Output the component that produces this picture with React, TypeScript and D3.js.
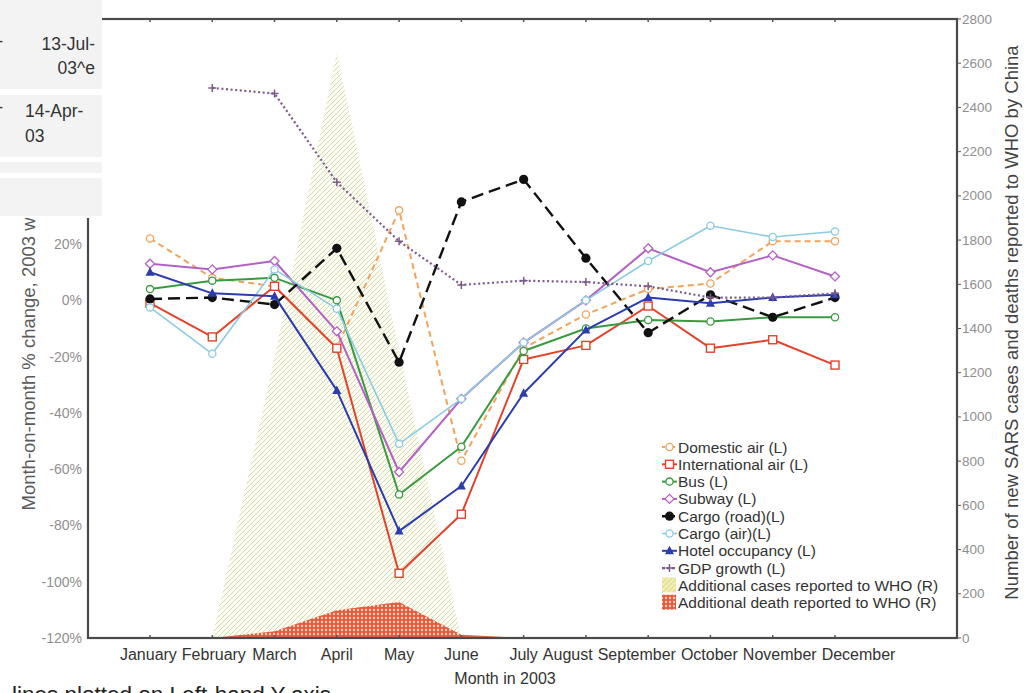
import React, { useMemo } from 'react';
import * as d3 from 'd3';

const months = ['January', 'February', 'March', 'April', 'May', 'June', 'July', 'August', 'September', 'October', 'November', 'December'];

// Left axis series (% change)
const domesticAir = [22, 8, 5, -17, 32, -57, -17, -5, 4, 6, 21, 21];
const internationalAir = [-1, -13, 5, -17, -97, -76, -21, -16, -2, -17, -14, -23];
const bus = [4, 7, 8, 0, -69, -52, -18, -10, -7, -7.5, -6, -6];
const subway = [13, 11, 14, -11, -61, -35, -15, 0, 18.5, 10, 16, 8.5];
const cargoRoad = [0.5, 1, -1.5, 18.5, -22, 35, 43, 15, -11.5, 2, -6, 1];
const cargoAir = [-2.5, -19, 11, -3, -51, -35, -15, 0, 14, 26.5, 22.5, 24.5];
const hotelOccupancy = [10, 2.5, 1.5, -32, -82, -66, -33, -10.5, 1, -1, 1, 2];
const gdpGrowth: (number | null)[] = [null, 75.5, 73.5, 42, 21, 5.5, 7, 6.5, 5, 1, 1, 2.5];

// Right axis series (counts)
const newCases = [0, 0, 1270, 2650, 1300, 0, 0, 0, 0, 0, 0, 0];
const newDeaths = [0, 0, 30, 125, 163, 15, 0, 0, 0, 0, 0, 0];

// visible left tick labels (higher ones are hidden behind the page overlay)
const leftTicks = [-120, -100, -80, -60, -40, -20, 0, 20];
const rightTicks = [0, 200, 400, 600, 800, 1000, 1200, 1400, 1600, 1800, 2000, 2200, 2400, 2600, 2800];

const W = 1029, H = 693;
const M = { left: 88, right: 957, top: 19, bottom: 638 };
const FONT = '"Liberation Sans", Arial, sans-serif';

type Marker = 'circle' | 'square' | 'diamond' | 'dot' | 'triangle' | 'plus';
interface Series { name: string; values: (number | null)[]; color: string; width: number; dash?: string; marker: Marker; filled: boolean; }

const series: Series[] = [
  { name: 'Domestic air (L)', values: domesticAir, color: '#f2a35c', width: 2, dash: '6,4', marker: 'circle', filled: false },
  { name: 'International air (L)', values: internationalAir, color: '#e2432c', width: 2, marker: 'square', filled: false },
  { name: 'Bus (L)', values: bus, color: '#3a9a40', width: 2, marker: 'circle', filled: false },
  { name: 'Subway (L)', values: subway, color: '#b461c6', width: 2, marker: 'diamond', filled: false },
  { name: 'Cargo (road)(L)', values: cargoRoad, color: '#111111', width: 2.4, dash: '12,6', marker: 'dot', filled: true },
  { name: 'Cargo (air)(L)', values: cargoAir, color: '#8ccbe2', width: 1.6, marker: 'circle', filled: false },
  { name: 'Hotel occupancy (L)', values: hotelOccupancy, color: '#2b3cae', width: 2, marker: 'triangle', filled: true },
  { name: 'GDP growth (L)', values: gdpGrowth, color: '#7d5a8e', width: 2.2, dash: '2,2.6', marker: 'plus', filled: false },
];

function markerEl(m: Marker, x: number, y: number, color: string, key: string | number) {
  switch (m) {
    case 'circle':
      return <circle key={key} cx={x} cy={y} r={3.6} fill="#fff" stroke={color} strokeWidth={1.3} />;
    case 'square':
      return <rect key={key} x={x - 4} y={y - 4} width={8} height={8} fill="#fff" stroke={color} strokeWidth={1.4} />;
    case 'diamond':
      return <path key={key} d={`M${x},${y - 4.5}L${x + 4.5},${y}L${x},${y + 4.5}L${x - 4.5},${y}Z`} fill="#fff" stroke={color} strokeWidth={1.3} />;
    case 'dot':
      return <circle key={key} cx={x} cy={y} r={4.6} fill={color} />;
    case 'triangle':
      return <path key={key} d={`M${x},${y - 5}L${x + 4.5},${y + 3.5}L${x - 4.5},${y + 3.5}Z`} fill={color} />;
    case 'plus':
      return <path key={key} d={`M${x - 4},${y}H${x + 4}M${x},${y - 4}V${y + 4}`} stroke={color} strokeWidth={1.5} fill="none" />;
  }
}

function layoutLabels(centers: number[], widths: number[], gap: number) {
  const c = centers.slice();
  for (let it = 0; it < 500; it++) {
    let moved = false;
    for (let i = 0; i < c.length - 1; i++) {
      const ov = c[i] + widths[i] / 2 + gap - (c[i + 1] - widths[i + 1] / 2);
      if (ov > 0.01) { c[i] -= ov / 2; c[i + 1] += ov / 2; moved = true; }
    }
    if (!moved) break;
  }
  return c;
}

export default function App() {
  const x = d3.scalePoint<string>().domain(months).range([150, 835]);
  const yL = d3.scaleLinear().domain([-120, 100]).range([M.bottom, M.top]);
  const yR = d3.scaleLinear().domain([0, 2800]).range([M.bottom, M.top]);

  const labelPos = useMemo(() => {
    const ctx = document.createElement('canvas').getContext('2d');
    let widths = months.map((m) => m.length * 8);
    if (ctx) {
      ctx.font = `16px "Liberation Sans", Arial, sans-serif`;
      widths = months.map((m) => ctx.measureText(m).width);
    }
    return layoutLabels(months.map((m) => x(m) as number), widths, 5);
  }, []);

  const area = (vals: number[]) =>
    d3.area<number>().x((_, i) => x(months[i]) as number).y0(M.bottom).y1((d) => yR(d))(vals) || '';

  const lineGen = d3.line<number | null>()
    .defined((d) => d !== null)
    .x((_, i) => x(months[i]) as number)
    .y((d) => yL(d as number));

  const legendX = 662;
  const legendY0 = 447;
  const legendStep = 17.3;

  return (
    <svg width={W} height={H} style={{ position: 'absolute', left: 0, top: 0, background: '#fff' }} fontFamily={FONT}>
      <defs>
        <pattern id="hatch" patternUnits="userSpaceOnUse" width={5} height={5}>
          <rect width={5} height={5} fill="#fdfdf4" />
          <path d="M-1,1 l2,-2 M0,5 l5,-5 M4,6 l2,-2" stroke="#d2dbb0" strokeWidth={1} />
        </pattern>
        <pattern id="hatchLegend" patternUnits="userSpaceOnUse" width={5} height={5}>
          <rect width={5} height={5} fill="#f3efae" />
          <path d="M-1,1 l2,-2 M0,5 l5,-5 M4,6 l2,-2" stroke="#dcd998" strokeWidth={1.1} />
        </pattern>
        <pattern id="dots" patternUnits="userSpaceOnUse" width={4} height={4}>
          <rect width={4} height={4} fill="#e55c3c" />
          <circle cx={2} cy={2} r={1.15} fill="#fbd6c8" />
        </pattern>
        <clipPath id="plotClip">
          <rect x={M.left} y={M.top} width={M.right - M.left} height={M.bottom - M.top} />
        </clipPath>
      </defs>

      {/* areas (right axis) */}
      <g clipPath="url(#plotClip)">
        <path d={area(newCases)} fill="url(#hatch)" />
        <path d={area(newDeaths)} fill="url(#dots)" />
      </g>

      {/* lines */}
      <g clipPath="url(#plotClip)">
        {series.map((s) => (
          <g key={s.name}>
            <path d={lineGen(s.values) || ''} fill="none" stroke={s.color} strokeWidth={s.width}
              strokeDasharray={s.dash} strokeLinejoin="round" />
            {s.values.map((v, i) => v === null ? null : markerEl(s.marker, x(months[i]) as number, yL(v), s.color, i))}
          </g>
        ))}
      </g>

      {/* frame */}
      <rect x={M.left} y={M.top} width={M.right - M.left} height={M.bottom - M.top} fill="none" stroke="#4a4a4a" strokeWidth={2.2} />
      {months.map((m) => (
        <g key={m}>
          <line x1={x(m)} x2={x(m)} y1={M.top} y2={M.top + 3} stroke="#555" strokeWidth={1.5} />
          <line x1={x(m)} x2={x(m)} y1={M.bottom} y2={M.bottom - 3} stroke="#555" strokeWidth={1.5} />
        </g>
      ))}

      {/* left ticks */}
      {leftTicks.map((t) => (
        <text key={t} x={82} y={yL(t) + 5} textAnchor="end" fontSize={14} fill="#8f8f8f">{`${t}%`}</text>
      ))}
      {/* right ticks */}
      {rightTicks.map((t) => (
        <g key={t}>
          <line x1={M.right} x2={M.right + 4} y1={yR(t)} y2={yR(t)} stroke="#555" strokeWidth={1} />
          <text x={962} y={yR(t) + 4.5} fontSize={13.5} fill="#8f8f8f">{t}</text>
        </g>
      ))}

      {/* month labels */}
      {months.map((m, i) => (
        <text key={m} x={labelPos[i]} y={660} textAnchor="middle" fontSize={16} fill="#333">{m}</text>
      ))}
      <text x={505} y={684} textAnchor="middle" fontSize={16} fontWeight={500} fill="#333">Month in 2003</text>

      {/* axis titles */}
      <text transform={`translate(35,${(M.top + M.bottom) / 2}) rotate(-90)`} textAnchor="middle" fontSize={18.5} fill="#5a5a5a">
        Month-on-month % change, 2003 w.r.t. 2002
      </text>
      <text transform={`translate(1018,${(M.top + M.bottom) / 2 - 6}) rotate(-90)`} textAnchor="middle" fontSize={18.5} fill="#444">
        Number of new SARS cases and deaths reported to WHO by China
      </text>

      {/* legend */}
      {series.map((s, i) => {
        const cy = legendY0 + i * legendStep;
        return (
          <g key={s.name}>
            <line x1={legendX} x2={legendX + 15} y1={cy} y2={cy} stroke={s.color} strokeWidth={s.width} strokeDasharray={s.dash ? '3,2' : undefined} />
            {markerEl(s.marker, legendX + 7.5, cy, s.color, 'm')}
            <text x={legendX + 16} y={cy + 5.5} fontSize={15.5} fill="#333">{s.name}</text>
          </g>
        );
      })}
      {(() => {
        const cy1 = legendY0 + 8 * legendStep;
        const cy2 = legendY0 + 9 * legendStep;
        return (
          <g>
            <rect x={legendX} y={cy1 - 8} width={14} height={15} fill="url(#hatchLegend)" />
            <text x={legendX + 16} y={cy1 + 5.5} fontSize={15.5} fill="#333">Additional cases reported to WHO (R)</text>
            <rect x={legendX} y={cy2 - 8} width={14} height={15} fill="url(#dots)" />
            <text x={legendX + 16} y={cy2 + 5.5} fontSize={15.5} fill="#333">Additional death reported to WHO (R)</text>
          </g>
        );
      })()}

      {/* bottom-left page text (cut off) */}
      <text x={12} y={702} fontSize={22.5} fill="#222">lines plotted on Left-hand Y-axis</text>

      {/* overlaying web-page table fragment */}
      <g>
        <rect x={0} y={0} width={102} height={218} fill="#fff" />
        <rect x={0} y={0} width={102} height={89} fill="#f3f3f3" />
        <rect x={0} y={95} width={102} height={62} fill="#f3f3f3" />
        <rect x={0} y={162} width={102} height={11} fill="#f3f3f3" />
        <rect x={0} y={178} width={102} height={38} fill="#f3f3f3" />
        <text x={3} y={47} textAnchor="end" fontSize={17.5} fill="#333">-</text>
        <text x={95} y={50} textAnchor="end" fontSize={17.5} fill="#333">13-Jul-</text>
        <text x={95} y={74} textAnchor="end" fontSize={17.5} fill="#333">03^e</text>
        <text x={3} y={113} textAnchor="end" fontSize={17.5} fill="#333">-</text>
        <text x={25} y={117} fontSize={17.5} fill="#333">14-Apr-</text>
        <text x={25} y={142} fontSize={17.5} fill="#333">03</text>
      </g>
    </svg>
  );
}
